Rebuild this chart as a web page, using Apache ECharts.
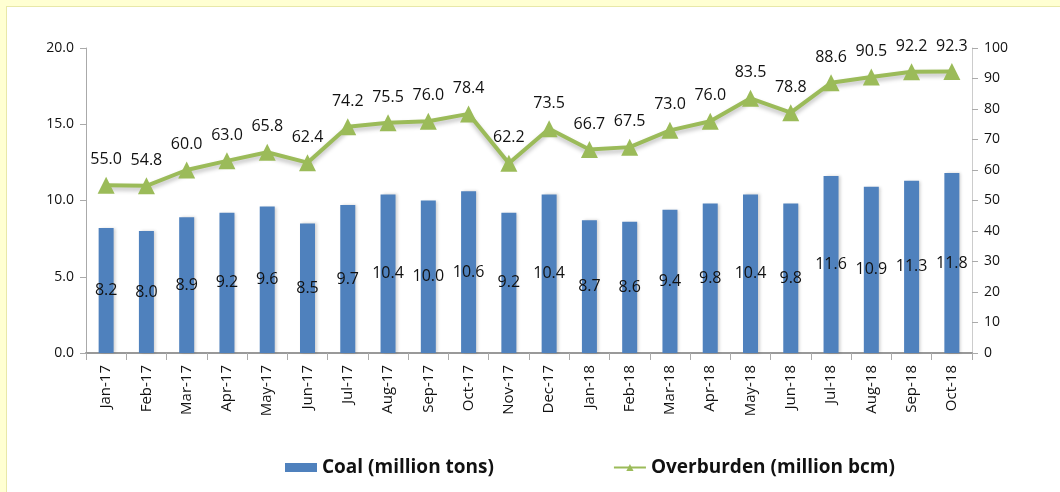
<!DOCTYPE html>
<html><head><meta charset="utf-8">
<script src="https://cdn.jsdelivr.net/npm/echarts@6/dist/echarts.min.js"></script>
<style>
html,body{margin:0;padding:0;background:#FFFFD2;}
#frame{position:absolute;left:6px;top:6px;width:1054px;height:486px;background:#fff;border-left:1px solid #E8E8A8;border-top:1px solid #E8E8A8;}
#c{position:absolute;left:0;top:0;width:1060px;height:492px;}
</style></head>
<body><div id="frame"></div><div id="c"></div>
<script>
const categories = ['Jan-17','Feb-17','Mar-17','Apr-17','May-17','Jun-17','Jul-17','Aug-17','Sep-17','Oct-17','Nov-17','Dec-17','Jan-18','Feb-18','Mar-18','Apr-18','May-18','Jun-18','Jul-18','Aug-18','Sep-18','Oct-18'];
const coal = [8.2,8.0,8.9,9.2,9.6,8.5,9.7,10.4,10.0,10.6,9.2,10.4,8.7,8.6,9.4,9.8,10.4,9.8,11.6,10.9,11.3,11.8];
const overburden = [55.0,54.8,60.0,63.0,65.8,62.4,74.2,75.5,76.0,78.4,62.2,73.5,66.7,67.5,73.0,76.0,83.5,78.8,88.6,90.5,92.2,92.3];
const leftTicks = {min:0,max:20,interval:5};
const rightTicks = {min:0,max:100,interval:10};
const FONT = 'Open Sans';
const chart = echarts.init(document.getElementById('c'));
chart.setOption({
  backgroundColor:'transparent',
  textStyle:{fontFamily:FONT},
  animation:false,
  grid:{left:86,right:88,top:48,bottom:139},
  legend:{
    left:280, top:453, itemGap:119, itemWidth:32, itemHeight:9,
    textStyle:{fontFamily:FONT,fontWeight:'bold',fontSize:19,color:'#111'},
    data:[{name:'Coal (million tons)',icon:'rect'},{name:'Overburden (million bcm)'}]
  },
  xAxis:{
    type:'category', data:categories,
    axisLine:{lineStyle:{color:'#999',width:2}},
    axisTick:{show:true,length:7,lineStyle:{color:'#aaa'}},
    axisLabel:{rotate:90,fontSize:15,color:'#111',margin:12,fontFamily:FONT}
  },
  yAxis:[
    {type:'value',min:leftTicks.min,max:leftTicks.max,interval:leftTicks.interval,
     splitLine:{show:false},
     axisLine:{show:true,lineStyle:{color:'#aaa'}},
     axisTick:{show:true,length:6,lineStyle:{color:'#aaa'}},
     axisLabel:{formatter:v=>v.toFixed(1),fontSize:14,color:'#111',margin:12}},
    {type:'value',min:rightTicks.min,max:rightTicks.max,interval:rightTicks.interval,
     splitLine:{show:false},
     axisLine:{show:true,lineStyle:{color:'#ccc'}},
     axisTick:{show:true,length:6,lineStyle:{color:'#aaa'}},
     axisLabel:{fontSize:14,color:'#111',margin:12}}
  ],
  series:[
    {name:'Coal (million tons)',type:'bar',yAxisIndex:0,data:coal,barWidth:15,
     itemStyle:{color:'#4F81BD',shadowColor:'rgba(0,0,0,0.18)',shadowBlur:3,shadowOffsetX:2},
     label:{show:true,position:'inside',formatter:p=>p.value.toFixed(1),color:'#111',fontSize:16}},
    {name:'Overburden (million bcm)',type:'line',yAxisIndex:1,data:overburden,
     symbol:'triangle',symbolSize:17,
     lineStyle:{color:'#9BBB59',width:4,shadowColor:'rgba(0,0,0,0.25)',shadowBlur:4,shadowOffsetY:3},
     itemStyle:{color:'#9BBB59'},
     label:{show:true,position:'top',distance:9,formatter:p=>p.value.toFixed(1),color:'#111',fontSize:16}}
  ]
});
</script></body></html>
